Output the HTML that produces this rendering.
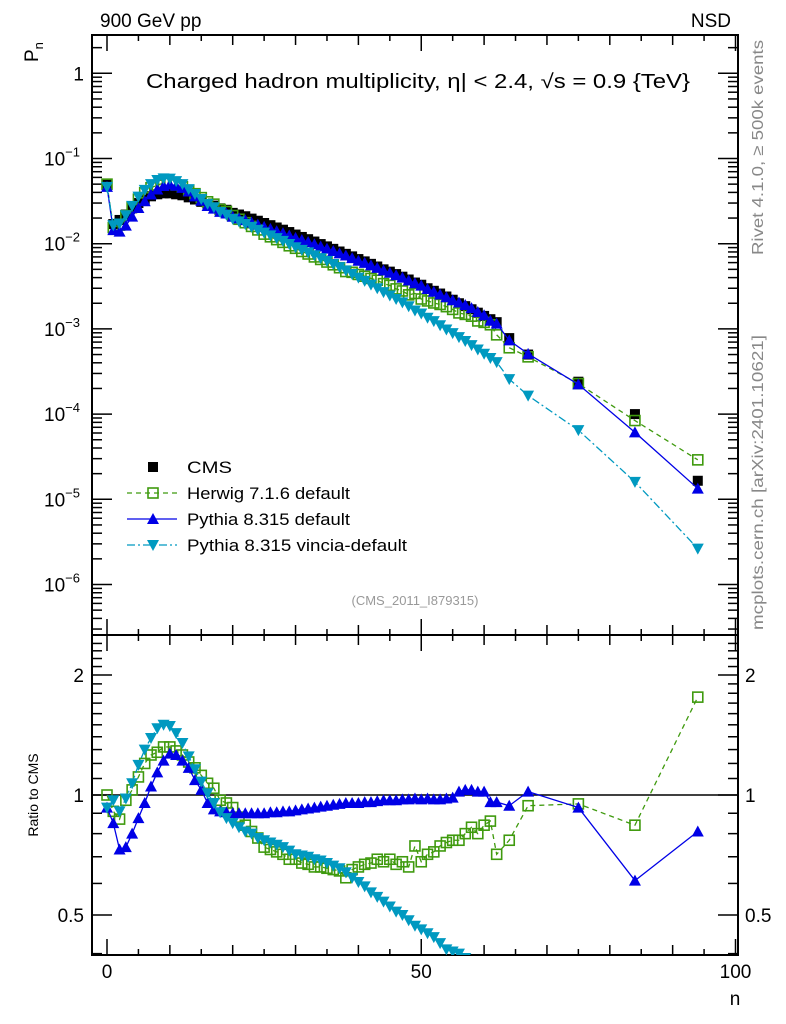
<!DOCTYPE html>
<html><head><meta charset="utf-8"><style>
html,body{margin:0;padding:0;background:#fff;overflow:hidden;width:786px;height:1024px}
svg{display:block}
svg text{font-family:"Liberation Sans",sans-serif}
</style></head><body>
<svg id="chart" width="786" height="1024" viewBox="0 0 786 1024" xmlns="http://www.w3.org/2000/svg">
<g id="static">
<text x="100" y="27" font-size="19">900 GeV pp</text>
<text x="731" y="27" font-size="19" text-anchor="end">NSD</text>
<text transform="translate(38,62) rotate(-90)" font-size="19">P<tspan font-size="13" dy="5">n</tspan></text>
<text x="146" y="88" font-size="20" textLength="544" lengthAdjust="spacingAndGlyphs">Charged hadron multiplicity, η| &lt; 2.4, √s = 0.9 {TeV}</text>
<text transform="translate(763,255) rotate(-90)" font-size="16" fill="#888" textLength="215" lengthAdjust="spacingAndGlyphs">Rivet 4.1.0, ≥ 500k events</text>
<text transform="translate(763,630) rotate(-90)" font-size="16" fill="#888" textLength="295" lengthAdjust="spacingAndGlyphs">mcplots.cern.ch [arXiv:2401.10621]</text>
<text x="415" y="605" font-size="13" fill="#999" text-anchor="middle">(CMS_2011_I879315)</text>
<text transform="translate(38,795) rotate(-90)" font-size="14" text-anchor="middle">Ratio to CMS</text>
<text x="735" y="1005" font-size="19" text-anchor="middle">n</text>
</g>
<g id="axes"></g>
<g id="marks"></g>
<g id="legend"></g>
</svg>
<script>
const nvals=[0,1,2,3,4,5,6,7,8,9,10,11,12,13,14,15,16,17,18,19,20,21,22,23,24,25,26,27,28,29,30,31,32,33,34,35,36,37,38,39,40,41,42,43,44,45,46,47,48,49,50,51,52,53,54,55,56,57,58,59,60,61,62,64,67,75,84,94];
const cmsVals=[0.05,0.017,0.019,0.022,0.026,0.030,0.033,0.036,0.038,0.039,0.039,0.038,0.037,0.035,0.033,0.031,0.029,0.028,0.026,0.025,0.023,0.022,0.021,0.0197,0.0186,0.0175,0.0165,0.0155,0.0146,0.0137,0.0128,0.012,0.0113,0.0106,0.0099,0.0093,0.0087,0.0081,0.0076,0.0071,0.0066,0.0062,0.0058,0.0054,0.0050,0.0047,0.0044,0.0041,0.0038,0.0035,0.0033,0.0030,0.0028,0.0026,0.0024,0.0022,0.0020,0.00185,0.0017,0.00155,0.00142,0.0013,0.0012,0.00078,0.0005,0.00024,0.0001,0.0000165];
const herwigRatio=[1.0,0.91,0.87,0.97,1.03,1.11,1.2,1.26,1.28,1.32,1.32,1.29,1.26,1.21,1.17,1.12,1.07,1.04,0.97,0.955,
0.93,0.88,0.84,0.81,0.78,0.74,0.73,0.72,0.71,0.69,0.69,0.675,0.67,0.66,0.66,0.655,0.65,0.645,0.62,0.65,
0.66,0.67,0.675,0.69,0.68,0.69,0.67,0.68,0.66,0.745,0.68,0.71,0.72,0.745,0.76,0.77,0.77,0.80,0.83,0.80,0.84,0.86,0.71,
0.77,0.94,0.95,0.84,1.76];
const pythiaRatio=[0.93,0.85,0.73,0.74,0.80,0.875,0.955,1.05,1.14,1.22,1.27,1.26,1.22,1.17,1.09,1.03,0.955,0.92,0.91,0.905,
0.9,0.9,0.9,0.9,0.9,0.9,0.905,0.905,0.91,0.91,0.915,0.92,0.925,0.93,0.935,0.94,0.945,0.95,0.955,0.955,
0.955,0.96,0.96,0.965,0.97,0.97,0.97,0.975,0.975,0.98,0.975,0.98,0.975,0.975,0.98,0.985,1.02,1.03,1.03,1.02,1.02,0.96,0.96,
0.94,1.02,0.93,0.61,0.81];
const vinciaRatio=[0.93,0.97,0.91,0.98,1.07,1.19,1.30,1.39,1.47,1.50,1.49,1.43,1.35,1.25,1.16,1.08,1.01,0.955,0.905,0.875,
0.85,0.83,0.81,0.80,0.78,0.77,0.76,0.75,0.74,0.725,0.71,0.705,0.70,0.69,0.685,0.675,0.665,0.655,0.64,0.62,
0.605,0.59,0.57,0.555,0.54,0.525,0.51,0.50,0.485,0.47,0.46,0.45,0.44,0.425,0.41,0.405,0.40,0.39,0.38,0.37,0.36,0.35,0.34,
0.33,0.33,0.27,0.16,0.16];
const xTicks=[0,50,100];
const yDecades=[0,-1,-2,-3,-4,-5,-6];
const ratioTicks=[2,1,0.5];

const NS="http://www.w3.org/2000/svg";
const L=92,R=738,T=35,MID=635,B=955;
const X=n=>107+n*6.285;
const Y=v=>73.3-85.2*Math.log10(v);
const YR=r=>795-120*Math.log2(r);
function mk(tag,attrs,parent){const e=document.createElementNS(NS,tag);for(const k in attrs)e.setAttribute(k,attrs[k]);parent.appendChild(e);return e;}
const axes=document.getElementById('axes'),marks=document.getElementById('marks'),legend=document.getElementById('legend');

let f1=mk('rect',{x:L,y:T,width:R-L,height:MID-T,fill:'none',stroke:'#000','stroke-width':2},axes);


let f2=mk('rect',{x:L,y:MID,width:R-L,height:B-MID,fill:'none',stroke:'#000','stroke-width':2},axes);


for(let n=0;n<=100;n+=5){const big=n%10===0,len=n%50===0?16:(big?10:6);const x=X(n);
 for(const [yb,dir] of [[MID,-1],[T,1],[B,-1],[MID,1]]){mk('line',{x1:x,x2:x,y1:yb,y2:yb+dir*len,stroke:'#000','stroke-width':1.5},axes);}}
for(const t of xTicks){const e=mk('text',{x:X(t),y:978,'font-size':19,'text-anchor':'middle'},axes);e.textContent=t;
 
 }
for(let d=-7;d<=0;d++){for(let m=1;m<10;m++){const v=m*Math.pow(10,d);const y=Y(v);if(y<T||y>MID)continue;const len=m===1?20:10;
 mk('line',{x1:L,x2:L+len,y1:y,y2:y,stroke:'#000','stroke-width':1.5},axes);mk('line',{x1:R,x2:R-len,y1:y,y2:y,stroke:'#000','stroke-width':1.5},axes);}}
for(const d of yDecades){const y=Y(Math.pow(10,d));const e=mk('text',{x:d===0?84:80,y:y+7,'font-size':19,'text-anchor':'end'},axes);
 
 
 if(d===0){e.textContent='1';}else{e.textContent='10';const s=mk('tspan',{dy:-9,'font-size':13},e);s.textContent=String(d).replace('-','−');}}
for(let r=0.4;r<=2.5;r+=0.1){const y=YR(r);if(y<MID||y>B)continue;const big=Math.abs(r-0.5)<1e-6||Math.abs(r-1)<1e-6||Math.abs(r-2)<1e-6;const len=big?20:10;
 mk('line',{x1:L,x2:L+len,y1:y,y2:y,stroke:'#000','stroke-width':1.5},axes);mk('line',{x1:R,x2:R-len,y1:y,y2:y,stroke:'#000','stroke-width':1.5},axes);}
for(const r of ratioTicks){for(const [x,a] of [[84,'end'],[745,'start']]){const e=mk('text',{x:x,y:YR(r)+7,'font-size':19,'text-anchor':a},axes);e.textContent=r;
 
 }}
let one=mk('line',{x1:L,x2:R,y1:YR(1),y2:YR(1),stroke:'#000','stroke-width':1.5},axes);



function marker(type,x,y,col,parent){
 if(type==='sq')return mk('rect',{x:x-5,y:y-5,width:10,height:10,fill:col},parent);
 if(type==='osq')return mk('rect',{x:x-5,y:y-5,width:10,height:10,fill:'none',stroke:col,'stroke-width':1.6},parent);
 if(type==='up')return mk('polygon',{points:`${x},${y-6} ${x-6},${y+5} ${x+6},${y+5}`,fill:col},parent);
 return mk('polygon',{points:`${x},${y+6} ${x-6},${y-5} ${x+6},${y-5}`,fill:col},parent);}

const series=[
 {name:'herwig',ratio:herwigRatio,col:'#3f9a0e',type:'osq',dash:'5,4'},
 {name:'pythia',ratio:pythiaRatio,col:'#0000e6',type:'up',dash:''},
 {name:'vincia',ratio:vinciaRatio,col:'#0099c0',type:'dn',dash:'8,3,2,3'}];
const clipT=mk('clipPath',{id:'ct'},marks);mk('rect',{x:L,y:T,width:R-L,height:MID-T},clipT);
const clipR=mk('clipPath',{id:'cr'},marks);mk('rect',{x:L,y:MID,width:R-L,height:B-MID},clipR);
const gT=mk('g',{'clip-path':'url(#ct)'},marks),gR=mk('g',{'clip-path':'url(#cr)'},marks);
cmsVals.forEach((v,i)=>{const m=marker('sq',X(nvals[i]),Y(v),'#000',gT);
 
 });
for(const s of series){
 const top=nvals.map((n,i)=>[X(n),Y(cmsVals[i]*s.ratio[i])]);
 const rat=nvals.map((n,i)=>[X(n),YR(s.ratio[i])]);
 for(const [pts,g] of [[top,gT],[rat,gR]]){
  const p=mk('polyline',{points:pts.map(p=>p.join(',')).join(' '),fill:'none',stroke:s.col,'stroke-width':1.3,'stroke-dasharray':s.dash},g);
  
  
  pts.forEach(q=>{const m=marker(s.type,q[0],q[1],s.col,g);
   
   });}
}
const leg=[['CMS','sq','#000',null,45],['Herwig 7.1.6 default','osq','#3f9a0e','5,4',163],['Pythia 8.315 default','up','#0000e6','',163],['Pythia 8.315 vincia-default','dn','#0099c0','8,3,2,3',220]];
leg.forEach((l,i)=>{const y=467+i*26;const g=mk('g',{},legend);
 
 
 if(l[3]!==null)mk('line',{x1:127,x2:177,y1:y,y2:y,stroke:l[2],'stroke-width':1.3,'stroke-dasharray':l[3]},g);
 marker(l[1],153,y,l[2],g);
 const t=mk('text',{x:187,y:y+6,'font-size':17,textLength:l[4],lengthAdjust:'spacingAndGlyphs'},g);t.textContent=l[0];});
</script>
</body></html>
